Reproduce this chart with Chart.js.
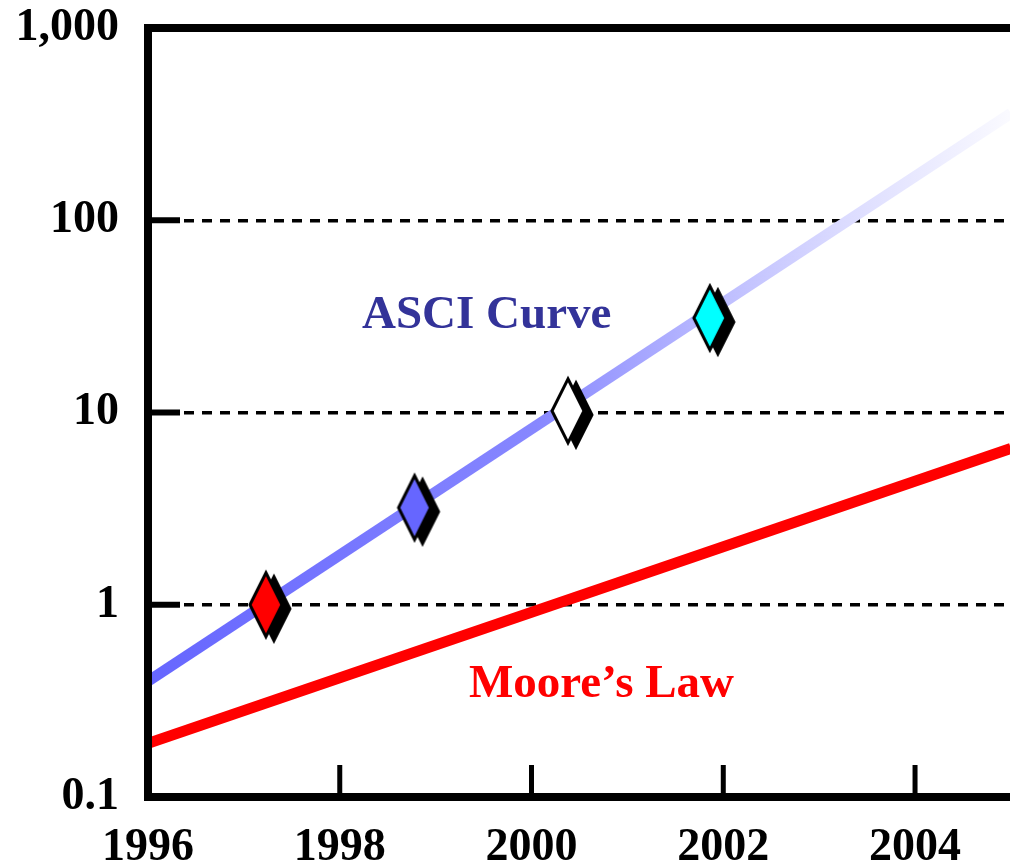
<!DOCTYPE html>
<html>
<head>
<meta charset="utf-8">
<script src="https://cdn.jsdelivr.net/npm/chart.js@4.4.0/dist/chart.umd.min.js"></script>
<style>
  html, body { margin: 0; padding: 0; background: #fff; overflow: hidden; }
  #wrap { width: 1010px; height: 864px; }
</style>
</head>
<body>
<div id="wrap"><canvas id="myChart" width="1010" height="864"></canvas></div>
<script>
const xTicks = [1996, 1998, 2000, 2002, 2004];
const xTickLabels = ['1996', '1998', '2000', '2002', '2004'];
const yTicks = [0.1, 1, 10, 100, 1000];
const yTickLabels = ['0.1', '1', '10', '100', '1,000'];

const asciYears = [1996, 2005];
const asciValues = [0.4, 360];
const mooreYears = [1996, 2005];
const mooreValues = [0.19, 6.5];

const machineYears = [1997.23, 1998.78, 2000.38, 2001.86];
const machineValues = [1.0, 3.2, 10.2, 31];
const machineColors = ['#ff0000', '#6666ff', '#ffffff', '#00ffff'];

const serif = '"Liberation Serif", "Times New Roman", serif';
const ctx = document.getElementById('myChart').getContext('2d');

function diamondPath(g, cx, cy, hw, hh){
  g.beginPath();
  g.moveTo(cx, cy - hh);
  g.lineTo(cx + hw, cy);
  g.lineTo(cx, cy + hh);
  g.lineTo(cx - hw, cy);
  g.closePath();
}

// tall diamond with a black drop shadow, used as point style
function makeDiamond(fill){
  const c = document.createElement('canvas');
  c.width = 68;
  c.height = 90;
  const g = c.getContext('2d');
  g.lineJoin = 'miter';
  diamondPath(g, 34 + 8, 45 + 4, 16, 32);
  g.fillStyle = '#000';
  g.fill();
  g.lineWidth = 3;
  g.strokeStyle = '#000';
  g.stroke();
  diamondPath(g, 34, 45, 16, 32);
  g.fillStyle = fill;
  g.fill();
  g.stroke();
  return c;
}
const diamonds = machineColors.map(makeDiamond);

function asciGradient(context){
  const chart = context.chart;
  const area = chart.chartArea;
  if(!area){
    return '#6666ff';
  }
  const grad = chart.ctx.createLinearGradient(area.left, 0, area.right, 0);
  grad.addColorStop(0, 'rgb(102,102,255)');
  grad.addColorStop(0.45, 'rgb(135,135,255)');
  grad.addColorStop(0.67, 'rgb(190,190,255)');
  grad.addColorStop(0.8, 'rgb(218,218,255)');
  grad.addColorStop(1, 'rgb(250,250,255)');
  return grad;
}

// scales should not add extra room for overhanging labels
function noPadding(axis){
  axis.paddingTop = 0;
  axis.paddingBottom = 0;
  axis.paddingLeft = 0;
  axis.paddingRight = 0;
}

const framePlugin = {
  id: 'frame',
  afterDatasetsDraw(chart){
    const c = chart.ctx;
    const a = chart.chartArea;
    const xs = chart.scales.x;
    const ys = chart.scales.y;
    c.save();
    c.strokeStyle = '#000';
    c.lineCap = 'butt';
    // inner tick marks on the x axis
    c.lineWidth = 5;
    xTicks.slice(1).forEach(function(v){
      const px = xs.getPixelForValue(v);
      c.beginPath();
      c.moveTo(px, a.bottom);
      c.lineTo(px, a.bottom - 32);
      c.stroke();
    });
    // short solid ticks on the y axis
    c.lineWidth = 6;
    yTicks.slice(1, 4).forEach(function(v){
      const py = ys.getPixelForValue(v);
      c.beginPath();
      c.moveTo(a.left, py);
      c.lineTo(a.left + 32, py);
      c.stroke();
    });
    // frame: left, top, bottom
    c.lineWidth = 8;
    c.lineJoin = 'miter';
    c.beginPath();
    c.moveTo(a.right + 10, a.top);
    c.lineTo(a.left, a.top);
    c.lineTo(a.left, a.bottom);
    c.lineTo(a.right + 10, a.bottom);
    c.stroke();
    c.restore();
  },
  afterDraw(chart){
    const c = chart.ctx;
    c.save();
    c.textAlign = 'left';
    c.textBaseline = 'alphabetic';
    c.font = 'bold 47px ' + serif;
    c.fillStyle = '#333399';
    c.fillText('ASCI Curve', 362, 328);
    c.fillStyle = '#ff0000';
    c.fillText('Moore\u2019s Law', 469, 697);
    c.restore();
  }
};

const myChart = new Chart(ctx, {
  type: 'line',
  data: {
    datasets: [
      {
        label: 'Machines',
        data: machineYears.map((x, i) => ({x: x, y: machineValues[i]})),
        showLine: false,
        pointStyle: diamonds,
        pointRadius: 1,
        pointHoverRadius: 1,
        borderWidth: 0
      },
      {
        label: 'ASCI Curve',
        data: asciYears.map((x, i) => ({x: x, y: asciValues[i]})),
        borderColor: asciGradient,
        borderWidth: 11,
        pointRadius: 0,
        pointHoverRadius: 0,
        borderCapStyle: 'butt',
        clip: false
      },
      {
        label: 'Moore\u2019s Law',
        data: mooreYears.map((x, i) => ({x: x, y: mooreValues[i]})),
        borderColor: '#ff0000',
        borderWidth: 11,
        pointRadius: 0,
        pointHoverRadius: 0,
        borderCapStyle: 'butt',
        clip: false
      }
    ]
  },
  options: {
    responsive: false,
    animation: false,
    layout: {
      padding: {top: 28, left: 0, right: 0, bottom: 0}
    },
    plugins: {
      legend: {display: false},
      tooltip: {enabled: false}
    },
    scales: {
      x: {
        type: 'linear',
        min: 1996,
        max: 2004.98,
        afterBuildTicks: function(axis){
          axis.ticks = xTicks.map(v => ({value: v}));
        },
        afterFit: function(axis){
          axis.height = 67;
          noPadding(axis);
        },
        grid: {display: false},
        border: {display: false},
        ticks: {
          color: '#000',
          padding: 20,
          maxRotation: 0,
          autoSkip: false,
          font: {family: serif, size: 46, weight: 'bold', lineHeight: 1},
          callback: function(value, index){
            return xTickLabels[index];
          }
        }
      },
      y: {
        type: 'logarithmic',
        min: 0.1,
        max: 1000,
        afterBuildTicks: function(axis){
          axis.ticks = yTicks.map(v => ({value: v}));
        },
        afterFit: function(axis){
          axis.width = 148;
          noPadding(axis);
        },
        grid: {
          drawTicks: false,
          lineWidth: 3.5,
          color: function(c){
            const v = c.tick ? c.tick.value : 0;
            return (v === 0.1 || v === 1000) ? 'rgba(0,0,0,0)' : '#000';
          }
        },
        border: {display: false, dash: [10, 8]},
        ticks: {
          color: '#000',
          padding: 29,
          autoSkip: false,
          font: {family: serif, size: 46, weight: 'bold', lineHeight: 1},
          callback: function(value, index){
            return yTickLabels[index];
          }
        }
      }
    }
  },
  plugins: [framePlugin]
});
</script>
</body>
</html>
